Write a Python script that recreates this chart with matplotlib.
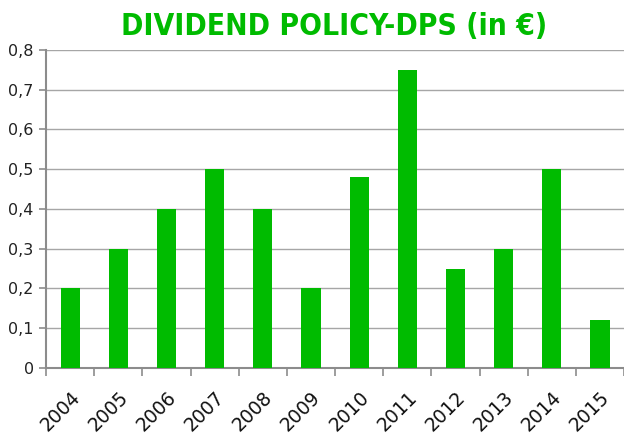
import matplotlib
matplotlib.use("Agg")
import matplotlib.pyplot as plt
import matplotlib.transforms as mtransforms
import numpy as np

years = ['2004', '2005', '2006', '2007', '2008', '2009',
         '2010', '2011', '2012', '2013', '2014', '2015']
dps = [0.2, 0.3, 0.4, 0.5, 0.4, 0.2, 0.48, 0.75, 0.25, 0.3, 0.5, 0.12]
yticks = [0, 0.1, 0.2, 0.3, 0.4, 0.5, 0.6, 0.7, 0.8]
ytick_labels = ['0', '0,1', '0,2', '0,3', '0,4', '0,5', '0,6', '0,7', '0,8']

green = '#00bb00'
axis_grey = '#8c8c8c'

fig = plt.figure(figsize=(6.24, 4.37), dpi=100)
ax = fig.add_axes([0.074, 0.158, 0.926, 0.728])

x = np.arange(len(years))
ax.bar(x, dps, width=0.4, color=green, zorder=3)

ax.set_xlim(-0.5, len(years) - 0.5)
ax.set_ylim(0, 0.8)
ax.set_yticks(yticks)
ax.set_yticklabels(ytick_labels, fontsize=11.5, color='#222222')
ax.yaxis.grid(True, color='#a6a6a6', linewidth=1.0, zorder=0)

ax.set_xticks(x)
ax.set_xticklabels(years, rotation=45, ha='right', rotation_mode='anchor',
                   fontsize=13.5, color='#111111')
# nudge labels a little to the right, like the original
offset = mtransforms.ScaledTranslation(8 / 100, 0, fig.dpi_scale_trans)
for lab in ax.get_xticklabels():
    lab.set_transform(lab.get_transform() + offset)
ax.set_xticks(np.arange(-0.5, len(years)), minor=True)
ax.tick_params(axis='x', which='major', length=0, pad=14)
ax.tick_params(axis='x', which='minor', length=6, width=1.2, color=axis_grey, direction='out')
ax.tick_params(axis='y', length=5, width=1.2, color=axis_grey, pad=4)

for s in ['top', 'right']:
    ax.spines[s].set_visible(False)
for s in ['left', 'bottom']:
    ax.spines[s].set_color(axis_grey)
    ax.spines[s].set_linewidth(1.5)

fig.text(0.536, 0.94, 'DIVIDEND POLICY-DPS (in €)', ha='center', va='center',
         fontsize=21.5, fontweight='bold', fontstretch='condensed', color=green)

fig.savefig('out.png', dpi=100)
